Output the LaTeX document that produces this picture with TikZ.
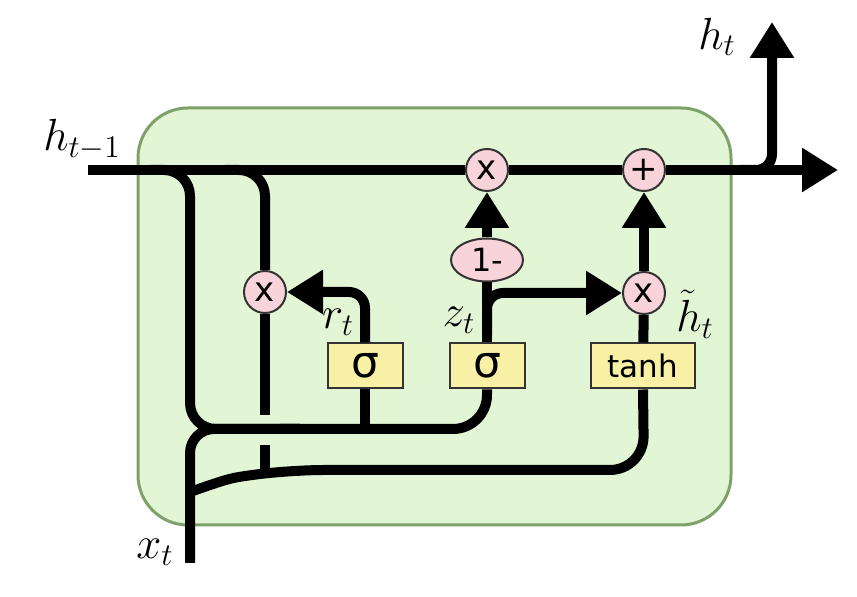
\RequirePackage{fix-cm}
\documentclass[tikz,border=0pt]{standalone}
\usepackage{fontspec}
\usepackage{tikz}
\usetikzlibrary{arrows.meta,shapes.geometric}
\newfontfamily\opfont{DejaVu Sans}
\definecolor{cellfill}{HTML}{E2F6D6}
\definecolor{celldraw}{HTML}{7EA16A}
\definecolor{opfill}{HTML}{F8D3D9}
\definecolor{actfill}{HTML}{F8F0A4}
\tikzset{
  wire/.style={line width=5pt},
  bigtip/.style={-{Triangle[length=18pt,width=21pt]}},
  pointop/.style={circle, draw=black!80, line width=1pt, fill=opfill, minimum size=21pt, inner sep=0pt, font=\opfont\fontsize{17}{17}\selectfont},
  actbox/.style={rectangle, draw=black!80, line width=1pt, fill=actfill, minimum width=37.5pt, minimum height=22.5pt, inner sep=0pt, font=\opfont\fontsize{22}{22}\selectfont},
  lbl/.style={inner sep=1pt, font=\fontsize{22.5}{26}\selectfont}
}

\begin{document}
\begin{tikzpicture}[x=0.5pt, y=-0.5pt]
    \useasboundingbox (0,0) rectangle (857,597);
    \draw[fill=cellfill, draw=celldraw, line width=1.5pt, rounded corners=25pt] (138,108) rectangle (731,525);

    \coordinate (hin) at (88,170);
    \coordinate (hout) at (838,170);
    \coordinate (hup) at (772,22);
    \coordinate (xin) at (190,563);

    \node[pointop] (mulz) at (487,170) {x};
    \node[pointop] (add) at (644,170) {+};
    \node[pointop] (rst) at (265,292) {x};
    \node[pointop] (mulh) at (644,293) {x};
    \node[ellipse, draw=black!80, line width=1pt, fill=opfill, minimum width=36pt, minimum height=21.5pt, inner sep=0pt, font=\opfont\fontsize{16}{16}\selectfont] (one) at (487,260) {1-};
    \node[actbox] (sigr) at (365,366) {σ};
    \node[actbox] (sigz) at (487,366) {σ};
    \node[actbox, minimum width=52pt, font=\opfont\fontsize{15.5}{16}\selectfont] (cand) at (643,366) {tanh};

    \node[lbl] (lhprev) at (82,140) {$h_{t-1}$};
    \node[lbl] (lhout) at (717,37) {$h_t$};
    \node[lbl] (lr) at (338,322) {$r_t$};
    \node[lbl] (lz) at (459,320) {$z_t$};
    \node[lbl] (lhc) at (695,314) {$\tilde{h}_t$};
    \node[lbl] (lx) at (155,552) {$x_t$};

    \draw[wire] (hin) -- (mulz) -- (add);
    \draw[wire, bigtip] (add) -- (hout);
    \draw[wire, bigtip, rounded corners=8pt] (740,170) -- (772,170) -- (hup);

    \draw[wire, rounded corners=13pt] (150,170) -- (190,170) -- (190,429) -- (300,429);
    \draw[wire, rounded corners=12pt] (xin) -- (190,429) -- (300,429);
    \draw[wire, rounded corners=17pt] (sigz.south) -- (487,429) -- (280,429);
    \draw[wire] (sigr.south) -- (365,429);

    \draw[wire, rounded corners=13pt] (225,170) -- (265,170) -- (rst.north);
    \draw[wire] (rst.south) -- (265,415);
    \draw[wire] (265,445) -- (265,472);
    \draw[wire, rounded corners=17pt] (190,492) .. controls (230,478) .. (290,470) -- (644,470) -- (cand.south);

    \draw[wire, bigtip, rounded corners=8pt] (sigr.north) -- (365,292) -- (rst);
    \draw[wire] (sigz.north) -- (one);
    \draw[wire, bigtip] (one) -- (mulz);
    \draw[wire, bigtip, rounded corners=8pt] (487,335) -- (487,293) -- (mulh);
    \draw[wire] (cand) -- (mulh);
    \draw[wire, bigtip] (mulh) -- (add);
\end{tikzpicture}
\end{document}
